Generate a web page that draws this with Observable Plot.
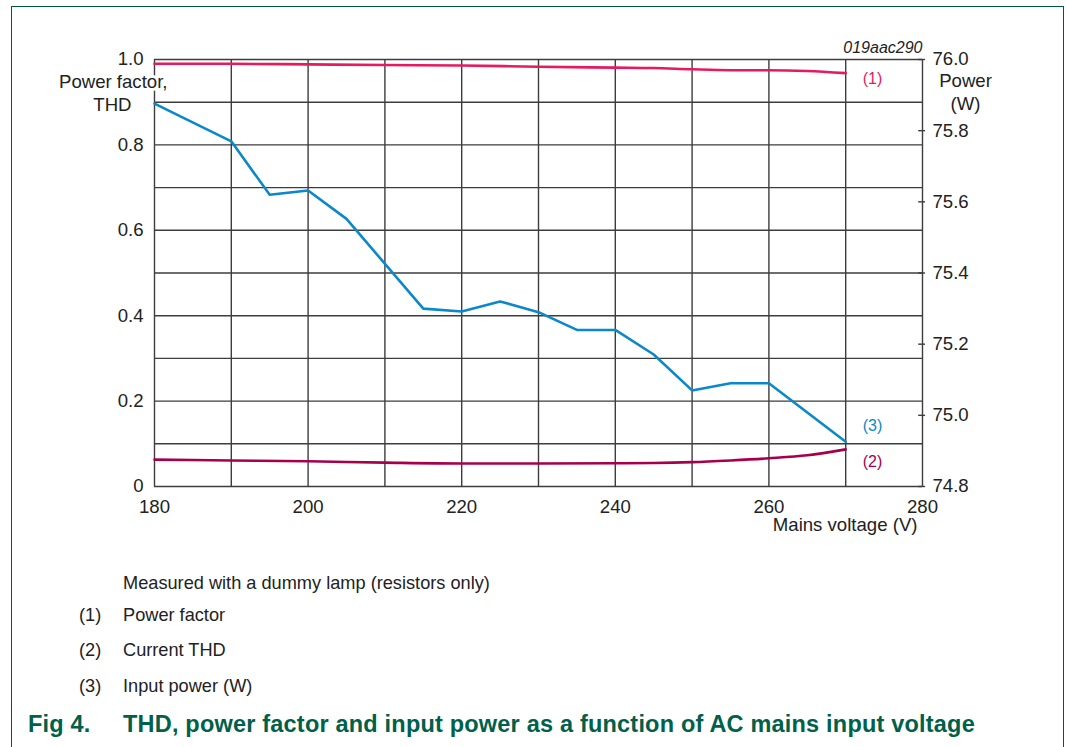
<!DOCTYPE html>
<html><head><meta charset="utf-8">
<script src="https://cdn.jsdelivr.net/npm/d3@7"></script>
<script src="https://cdn.jsdelivr.net/npm/@observablehq/plot@0.6"></script>
<style>
html,body{margin:0;padding:0;background:#fff;overflow:hidden;}
#wrap{position:relative;width:1066px;height:747px;font-family:"Liberation Sans",Arial,sans-serif;color:#222;}
#chart{position:absolute;left:0;top:0;}
.frame{position:absolute;left:11px;top:6px;width:1051px;height:800px;border:1.5px solid #00573f;border-bottom:none;pointer-events:none;}
.note{position:absolute;font-size:18.2px;line-height:20px;white-space:nowrap;color:#222;}
.cap{position:absolute;font-size:23.5px;line-height:24px;font-weight:bold;letter-spacing:0.2px;color:#00604a;white-space:nowrap;}
</style></head><body>
<div id="wrap">
<div id="chart"></div>
<div class="note" style="left:123px;top:573px;">Measured with a dummy lamp (resistors only)</div>
<div class="note" style="left:79px;top:605px;">(1)</div><div class="note" style="left:123px;top:605px;">Power factor</div>
<div class="note" style="left:79px;top:640px;">(2)</div><div class="note" style="left:123px;top:640px;">Current THD</div>
<div class="note" style="left:79px;top:676px;">(3)</div><div class="note" style="left:123px;top:676px;">Input power (W)</div>
<div class="cap" style="left:28px;top:712px;">Fig 4.</div>
<div class="cap" style="left:123px;top:712px;">THD, power factor and input power as a function of AC mains input voltage</div>
<div class="frame"></div>
</div>
<script>
// Data
const pfVolts = [180,190,200,210,220,230,240,245,250,255,260,265,270];
const pfValues = [0.990,0.990,0.9885,0.987,0.986,0.983,0.981,0.980,0.977,0.975,0.975,0.973,0.968];
const thdValues = [0.063,0.061,0.059,0.056,0.054,0.054,0.0545,0.055,0.057,0.061,0.066,0.073,0.087];
const powerVolts = [180,190,195,200,205,215,220,225,230,235,240,245,250,255,260,270];
const powerValues = [75.876,75.770,75.620,75.632,75.552,75.300,75.292,75.320,75.290,75.240,75.240,75.171,75.070,75.090,75.090,74.926];
const xTicks = [180,200,220,240,260,280];
const xGrid = [180,190,200,210,220,230,240,250,260,270,280];
const yTicks = [0,0.2,0.4,0.6,0.8,1.0];
const yGrid = [0,0.1,0.2,0.3,0.4,0.5,0.6,0.7,0.8,0.9,1.0];
const powerTicks = [74.8,75.0,75.2,75.4,75.6,75.8,76.0];
const seriesLabels = ["(1)","(2)","(3)"];

const pMin = 74.8, pMax = 76.0;
const toLeft = p => (p - pMin) / (pMax - pMin);
const pfRows = pfVolts.map((v,i) => ({v, pf: pfValues[i], thd: thdValues[i]}));
const pwRows = powerVolts.map((v,i) => ({v, p: powerValues[i]}));
const lastPf = pfRows[pfRows.length-1], lastPw = pwRows[pwRows.length-1];

const C1 = "#e8195e", C2 = "#a6004b", C3 = "#0a88c9", GRID = "#3d3d3d";
const font = "'Liberation Sans', Arial, sans-serif";

const chart = Plot.plot({
  width: 1066, height: 545,
  marginLeft: 154, marginRight: 144, marginTop: 59, marginBottom: 59,
  x: {domain: [180, 280]},
  y: {domain: [0, 1]},
  style: {fontFamily: font, fontSize: "18.6px", color: "#222", background: "transparent", overflow: "visible"},
  marks: [
    Plot.ruleX(xGrid, {stroke: GRID, strokeWidth: 1.4}),
    Plot.ruleY(yGrid, {stroke: GRID, strokeWidth: 1.4}),
    Plot.ruleY(powerTicks, {y: d => toLeft(d), x1: 279.5, x2: 280.4, stroke: GRID, strokeWidth: 1.4}),
    Plot.axisX({ticks: xTicks, tickSize: 0, tickPadding: 13, tickFormat: d => String(d), label: null}),
    Plot.axisY({ticks: yTicks, tickSize: 0, tickPadding: 11, tickFormat: d => d === 0 ? "0" : d.toFixed(1), label: null}),
    Plot.axisY({anchor: "right", ticks: powerTicks.map(toLeft), tickSize: 0, tickPadding: 10,
      tickFormat: v => (pMin + v * (pMax - pMin)).toFixed(1), label: null}),
    Plot.line(pfRows, {x: "v", y: "pf", stroke: C1, strokeWidth: 2.6, curve: "monotone-x"}),
    Plot.line(pfRows, {x: "v", y: "thd", stroke: C2, strokeWidth: 2.6, curve: "monotone-x"}),
    Plot.line(pwRows, {x: "v", y: d => toLeft(d.p), stroke: C3, strokeWidth: 2.6}),
    Plot.text([lastPf], {x: "v", y: "pf", text: () => seriesLabels[0], dx: 17, dy: 6, textAnchor: "start", fill: C1, fontSize: 16}),
    Plot.text([lastPf], {x: "v", y: "thd", text: () => seriesLabels[1], dx: 17, dy: 13, textAnchor: "start", fill: C2, fontSize: 16}),
    Plot.text([lastPw], {x: "v", y: d => toLeft(d.p), text: () => seriesLabels[2], dx: 17, dy: -16, textAnchor: "start", fill: C3, fontSize: 16}),
    Plot.text(["Power factor,"], {frameAnchor: "top-left", lineAnchor: "middle", dx: 13, dy: 23, textAnchor: "end", fill: "#222", stroke: "white", strokeWidth: 6}),
    Plot.text(["THD"], {frameAnchor: "top-left", lineAnchor: "middle", dx: -23, dy: 46, textAnchor: "end", fill: "#222", stroke: "white", strokeWidth: 6}),
    Plot.text(["Power"], {frameAnchor: "top-right", lineAnchor: "middle", dx: 43, dy: 22, textAnchor: "middle", fill: "#222"}),
    Plot.text(["(W)"], {frameAnchor: "top-right", lineAnchor: "middle", dx: 43, dy: 45, textAnchor: "middle", fill: "#222"}),
    Plot.text(["019aac290"], {frameAnchor: "top-right", lineAnchor: "middle", dx: 0, dy: -12, textAnchor: "end", fontStyle: "italic", fontSize: 16, fill: "#222"}),
    Plot.text(["Mains voltage (V)"], {frameAnchor: "bottom-right", lineAnchor: "middle", dx: -5, dy: 39, textAnchor: "end", fill: "#222"})
  ]
});
document.getElementById("chart").appendChild(chart);
</script>
</body></html>
